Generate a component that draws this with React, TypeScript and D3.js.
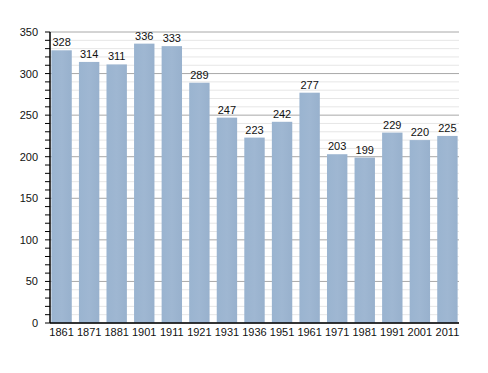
import * as d3 from "d3";

const years = ["1861", "1871", "1881", "1901", "1911", "1921", "1931", "1936", "1951", "1961", "1971", "1981", "1991", "2001", "2011"];
const population = [328, 314, 311, 336, 333, 289, 247, 223, 242, 277, 203, 199, 229, 220, 225];
const majorTicks = [0, 50, 100, 150, 200, 250, 300, 350];

const width = 488;
const height = 373;
const left = 50;
const right = 459;
const top = 32;
const bottom = 323;

export default function App() {
  const x = d3.scaleBand().domain(years).range([left, right]).paddingInner(0.26).paddingOuter(0.05);
  const y = d3.scaleLinear().domain([0, 350]).range([bottom, top]);
  const minorTicks = d3.range(0, 351, 10).filter((v) => v % 50 !== 0);

  return (
    <svg width={width} height={height} style={{ position: "absolute", left: 0, top: 0 }} fontFamily="Liberation Sans, Arial, sans-serif">
      <defs>
        <linearGradient id="barFill" x1="0" x2="1" y1="0" y2="0">
          <stop offset="0" stopColor="#9ab4d0" />
          <stop offset="0.5" stopColor="#9fb7d2" />
          <stop offset="1" stopColor="#98b1cd" />
        </linearGradient>
      </defs>
      {minorTicks.map((v) => (
        <line key={"m" + v} x1={left} x2={right} y1={y(v)} y2={y(v)} stroke="#e6e6e6" strokeWidth={1} />
      ))}
      {majorTicks.map((v) => (
        <line key={"g" + v} x1={left} x2={right} y1={y(v)} y2={y(v)} stroke="#a8a8a8" strokeWidth={1} />
      ))}
      {years.map((yr, i) => (
        <g key={yr}>
          <rect x={x(yr)} y={y(population[i])} width={x.bandwidth()} height={bottom - y(population[i])} fill="url(#barFill)" />
          <text x={(x(yr) as number) + x.bandwidth() / 2} y={y(population[i]) - 4} textAnchor="middle" fontSize={11} fill="#111">
            {population[i]}
          </text>
          <text x={(x(yr) as number) + x.bandwidth() / 2} y={bottom + 13} textAnchor="middle" fontSize={11} fill="#111">
            {yr}
          </text>
        </g>
      ))}
      {d3.range(0, 351, 10).map((v) => (
        <line key={"t" + v} x1={left - 5} x2={left} y1={y(v)} y2={y(v)} stroke="#000" strokeWidth={1} />
      ))}
      {majorTicks.map((v) => (
        <text key={"l" + v} x={38} y={y(v) + 4} textAnchor="end" fontSize={11} fill="#111">
          {v}
        </text>
      ))}
      <line x1={left} x2={left} y1={top} y2={bottom} stroke="#000" strokeWidth={1.5} />
      <line x1={left} x2={right} y1={bottom} y2={bottom} stroke="#000" strokeWidth={1.5} />
    </svg>
  );
}
